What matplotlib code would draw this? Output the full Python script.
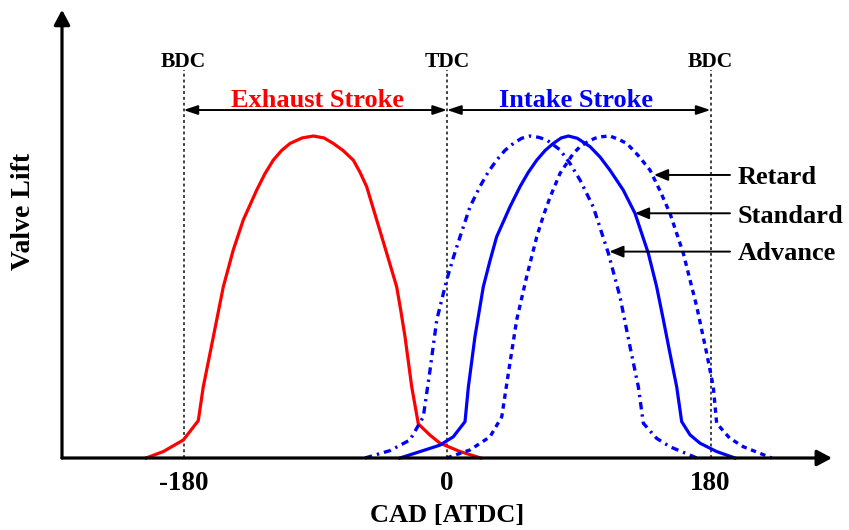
import matplotlib
matplotlib.use("Agg")
import matplotlib.pyplot as plt
from matplotlib.patches import FancyArrowPatch

plt.rcParams['font.family'] = ['Liberation Serif', 'DejaVu Serif']
plt.rcParams['font.weight'] = 'bold'

# ---------------- data ----------------
exhaust_cad = [-205.6, -193.8, -180.1, -169.9, -166.5, -163.0, -159.6, -152.8, -146.0, -139.2,
               -130.0, -124.5, -118.7, -113.0, -107.2, -99.0, -91.3, -84.0, -77.7, -71.0,
               -64.0, -59.5, -54.9, -48.0, -41.2, -34.4, -31.5, -28.7, -24.1, -19.6, -11.6,
               -4.8, 8.9, 23.0]
exhaust_lift = [0, .02, .056, .116, .221, .30, .377, .532, .646, .739,
                .832, .882, .925, .955, .977, .994, 1.0, .994, .977, .955,
                .925, .888, .843, .739, .636, .532, .456, .377, .221, .106, .071,
                .046, .02, 0]

standard_cad = [-32.1, -18.4, -4.8, 4.3, 12.3, 14.6, 19.1, 24.8, 29.5, 33.9, 43.0, 49.9, 55.5,
                61.3, 67.0, 72.6, 78.0, 82.9, 89.0, 97.7, 104.5, 111.3, 120.4, 128.4, 137.5,
                143.2, 147.8, 152.3, 156.9, 160.3, 166.0, 172.8, 184.2, 196.7]
standard_lift = [0, .02, .04, .066, .113, .221, .377, .532, .615, .687, .78, .843, .887,
                 .925, .955, .977, .994, 1.0, .993, .967, .935, .894, .832, .76, .636,
                 .532, .429, .325, .221, .113, .072, .046, .02, 0]

advance_cad = [-56.0, -38.9, -25.3, -16.2, -11.6, -7.0, -0.2, 4.5, 8.9, 15.7, 22.5, 28.0, 33.9,
               39.5, 45.3, 51.0, 56.7, 62.5, 68.1, 77.2, 84.0, 90.9, 99.9, 110.2, 118.2, 125.0,
               130.7, 134.1, 143.2, 152.3, 170.6]
advance_lift = [0, .023, .056, .128, .273, .429, .553, .625, .687, .78, .843, .887, .925,
                .955, .977, .993, 1.0, .996, .988, .957, .915, .863, .78, .636, .50, .346,
                .221, .108, .061, .035, 0]

retard_cad = [-0.2, 15.7, 29.4, 37.4, 41.9, 47.6, 54.4, 61.3, 65.8, 70.4, 77.2, 86.3, 90.9,
              96.0, 101.0, 106.0, 111.3, 117.0, 122.8, 130.5, 138.7, 145.5, 152.3, 161.4,
              170.6, 177.4, 181.9, 184.2, 193.0, 202.4, 221.8]
retard_lift = [0, .025, .066, .128, .263, .429, .563, .687, .752, .81, .884, .946, .967,
               .982, .993, .998, 1.0, .99, .977, .94, .894, .83, .76, .636,
               .47, .325, .221, .108, .062, .035, 0]

dead_centers = [-180, 0, 180]
dead_center_labels = ['BDC', 'TDC', 'BDC']
tick_values = [-180, 0, 180]
tick_labels = ['-180', '0', '180']

RED = '#ff0000'
BLUE = '#0000ff'

# ---------------- figure ----------------
fig = plt.figure(figsize=(8.49, 5.30), dpi=100)
ax = fig.add_axes([0, 0, 1, 1])
ax.set_xlim(-305.35, 274.6)
ax.set_ylim(-0.2236, 1.4224)
ax.axis('off')

# dead-centre dotted lines
for xc, lab in zip(dead_centers, dead_center_labels):
    ax.plot([xc, xc], [0, 1.205], color='#333333', lw=1.3, ls=(0, (1.6, 1.6)), zorder=1)
    ax.text(xc, 1.214, lab, ha='center', va='baseline', fontsize=15.5, fontweight='bold')

# curves
ax.plot(exhaust_cad, exhaust_lift, color=RED, lw=2.3, zorder=3, solid_joinstyle='round')
ax.plot(standard_cad, standard_lift, color=BLUE, lw=2.3, zorder=3, solid_joinstyle='round')
ax.plot(advance_cad, advance_lift, color=BLUE, lw=2.4, ls=(0, (2.2, 1.5, 0.7, 1.5)), zorder=3)
ax.plot(retard_cad, retard_lift, color=BLUE, lw=2.4, ls=(0, (1.6, 1.4)), zorder=3)

# axes with arrows
axis_kw = dict(arrowstyle='-|>,head_length=0.45,head_width=0.24', mutation_scale=20,
               color='black', lw=2.3, shrinkA=0, shrinkB=0, zorder=4)
ax.add_patch(FancyArrowPatch((-263, 0), (263, 0), **axis_kw))
ax.add_patch(FancyArrowPatch((-263, 0), (-263, 1.392), **axis_kw))

# stroke double arrows
y_arrow = 1.0807
stroke_kw = dict(arrowstyle='<|-|>,head_length=0.6,head_width=0.2', mutation_scale=14,
                 color='black', lw=1.4, shrinkA=0, shrinkB=0, zorder=4)
ax.add_patch(FancyArrowPatch((-180, y_arrow), (0, y_arrow), **stroke_kw))
ax.add_patch(FancyArrowPatch((0, y_arrow), (180, y_arrow), **stroke_kw))
ax.text(-88.8, 1.090, 'Exhaust Stroke', color=RED, ha='center', va='baseline',
        fontsize=19, fontweight='bold')
ax.text(88.1, 1.090, 'Intake Stroke', color=BLUE, ha='center', va='baseline',
        fontsize=19, fontweight='bold')

# timing labels with arrows
label_kw = dict(arrowstyle='-|>,head_length=0.6,head_width=0.25', mutation_scale=14,
                color='black', lw=1.4, shrinkA=0, shrinkB=0, zorder=4)
labels = [('Retard', 0.879, 141.4, 0.85), ('Standard', 0.760, 128.4, 0.730),
          ('Advance', 0.641, 110.9, 0.615)]
for name, ya, tip, yb in labels:
    ax.add_patch(FancyArrowPatch((193.3, ya), (tip, ya), **label_kw))
    ax.text(198.8, yb, name, ha='left', va='baseline', fontsize=19, fontweight='bold')

# tick labels
for tv, tl in zip(tick_values, tick_labels):
    ax.text(tv, -0.099, tl, ha='center', va='baseline', fontsize=19.5, fontweight='bold')

ax.text(0, -0.200, 'CAD [ATDC]', ha='center', va='baseline', fontsize=19, fontweight='bold')
ax.text(-289, 0.767, 'Valve Lift', ha='center', va='center', rotation=90,
        fontsize=20, fontweight='bold')

fig.savefig('out.png', dpi=100)
